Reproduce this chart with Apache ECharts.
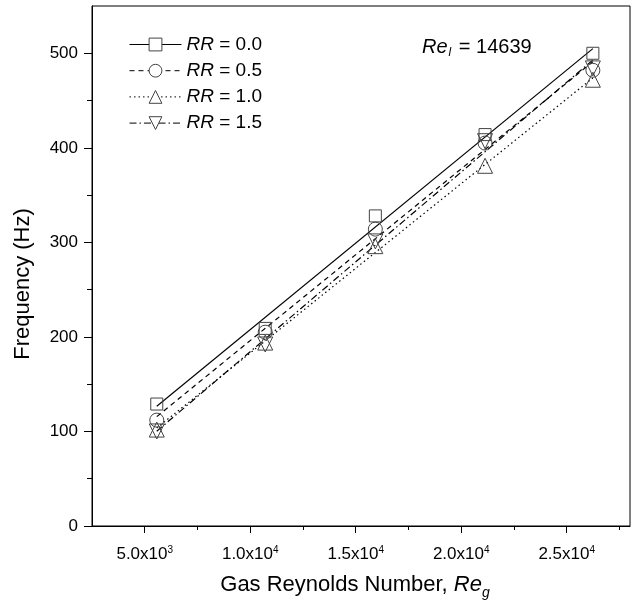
<!DOCTYPE html>
<html>
<head>
<meta charset="utf-8">
<script src="https://cdn.jsdelivr.net/npm/echarts@6/dist/echarts.min.js"></script>
<style>html,body{margin:0;padding:0;background:#fff}#c{width:634px;height:607px}</style>
</head>
<body>
<div id="c"></div>
<script>
// ---- data ----
const gasRe = [5570, 10710, 15930, 21130, 26240];
const freqRR00 = [129, 209, 328, 414, 500];
const freqRR05 = [112, 205, 314, 405, 482];
const freqRR10 = [102, 194, 296, 381, 472];
const freqRR15 = [100, 192, 301, 407, 484];
const seriesNames = ['RR = 0.0', 'RR = 0.5', 'RR = 1.0', 'RR = 1.5'];
const xTickValues = [5000, 10000, 15000, 20000, 25000];
const xTickLabels = ['5.0x10{s|3}', '1.0x10{s|4}', '1.5x10{s|4}', '2.0x10{s|4}', '2.5x10{s|4}'];
const xMinorTicks = [7500, 12500, 17500, 22500, 27500];
const yTickValues = [0, 100, 200, 300, 400, 500];
const yMinorTicks = [50, 150, 250, 350, 450];
const liquidRe = 14639;

function fit(xs, ys) {
  const n = xs.length;
  const mx = xs.reduce((a, b) => a + b, 0) / n;
  const my = ys.reduce((a, b) => a + b, 0) / n;
  let sxy = 0, sxx = 0;
  for (let i = 0; i < n; i++) { sxy += (xs[i] - mx) * (ys[i] - my); sxx += (xs[i] - mx) ** 2; }
  const b = sxy / sxx, a = my - b * mx;
  return [[xs[0], a + b * xs[0]], [xs[n - 1], a + b * xs[n - 1]]];
}

const allY = [freqRR00, freqRR05, freqRR10, freqRR15];
const symbols = ['rect', 'circle', 'triangle', 'triangle'];
const rotates = [0, 0, 0, 180];
const sizes = [12, 14, 15, 15];
const lineTypes = ['solid', [5, 4], [1.5, 3], [7, 3, 1.5, 3]];

const series = [];
allY.forEach((ys, i) => {
  series.push({
    name: seriesNames[i] + '_fit', type: 'line', data: fit(gasRe, ys), symbol: 'none',
    lineStyle: { color: '#000', width: 1.2, type: lineTypes[i] }, silent: true, z: 2
  });
});
allY.forEach((ys, i) => {
  series.push({
    name: seriesNames[i], type: 'line', data: gasRe.map((x, k) => [x, ys[k]]),
    symbol: symbols[i], symbolRotate: rotates[i], symbolSize: sizes[i],
    itemStyle: { color: 'rgba(255,255,255,0)', borderColor: '#444', borderWidth: 1 },
    lineStyle: { opacity: 0 }, z: 3
  });
});

const FONT = 'Liberation Sans, Arial, sans-serif';
const txt = { fontFamily: FONT, color: '#000' };
const chart = echarts.init(document.getElementById('c'));
chart.setOption({
  animation: false,
  backgroundColor: '#fff',
  grid: { left: 92, right: 4, top: 6, bottom: 81, show: true, borderColor: '#000', borderWidth: 1 },
  title: {
    text: '{i|Re}{sub|l} = ' + liquidRe, left: 417, top: 30,
    textStyle: { ...txt, fontSize: 20, fontWeight: 'normal',
      rich: { i: { ...txt, fontSize: 20, fontStyle: 'italic' }, sub: { ...txt, fontSize: 12, fontStyle: 'italic', verticalAlign: 'bottom', padding: [12, 2, 0, 1] } } }
  },
  legend: {
    left: 124, top: 30, orient: 'vertical', itemWidth: 52, itemHeight: 16, itemGap: 7.2,
    data: seriesNames.map((n, i) => ({ name: n,
      itemStyle: { color: '#fff', borderColor: '#444', borderWidth: 1 },
      lineStyle: { opacity: 1, color: '#000', width: 1, type: lineTypes[i] } })),
    formatter: n => '{i|RR}' + n.slice(2),
    textStyle: { ...txt, fontSize: 19, rich: { i: { ...txt, fontSize: 19, fontStyle: 'italic' } } }
  },
  xAxis: [{
    type: 'value', min: 2500, max: 28000, interval: 2500,
    name: 'Gas Reynolds Number, {i|Re}{sub|g}', nameLocation: 'middle', nameGap: 44,
    nameTextStyle: { ...txt, fontSize: 22, padding: [0, 12, 0, 0],
      rich: { i: { ...txt, fontSize: 22, fontStyle: 'italic' }, sub: { ...txt, fontSize: 14, fontStyle: 'italic', verticalAlign: 'bottom', padding: [16, 0, 0, 0] } } },
    axisLine: { lineStyle: { color: '#000' } },
    axisTick: { show: true, length: 7, customValues: xTickValues, lineStyle: { color: '#000' } },
    axisLabel: { customValues: xTickValues, margin: 19, ...txt, fontSize: 17,
      formatter: v => xTickLabels[xTickValues.indexOf(v)],
      rich: { s: { ...txt, fontSize: 10, verticalAlign: 'top', padding: [0, 0, 9, 0] } } },
    splitLine: { show: false }
  }, {
    type: 'value', min: 2500, max: 28000, position: 'bottom',
    axisLine: { show: false }, axisLabel: { show: false }, splitLine: { show: false },
    axisTick: { show: true, length: 4, customValues: xMinorTicks, lineStyle: { color: '#000' } }
  }],
  yAxis: [{
    type: 'value', min: 0, max: 550, interval: 100,
    name: 'Frequency (Hz)', nameLocation: 'middle', nameGap: 58,
    nameTextStyle: { ...txt, fontSize: 22, padding: [0, 36, 0, 0] },
    axisLine: { show: true, lineStyle: { color: '#000' } },
    axisTick: { show: true, length: 8, customValues: yTickValues, lineStyle: { color: '#000' } },
    axisLabel: { customValues: yTickValues, margin: 14, ...txt, fontSize: 17 },
    splitLine: { show: false }
  }, {
    type: 'value', min: 0, max: 550, position: 'left',
    axisLine: { show: false }, axisLabel: { show: false }, splitLine: { show: false },
    axisTick: { show: true, length: 5, customValues: yMinorTicks, lineStyle: { color: '#000' } }
  }],
  series: series
});
</script>
</body>
</html>
